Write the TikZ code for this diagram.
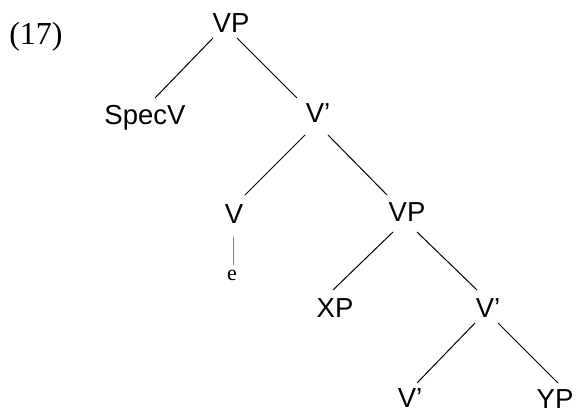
\documentclass[tikz,border=0pt]{standalone}
\usepackage{fontspec}
\setmainfont{Liberation Serif}
\setsansfont{Liberation Sans}
\begin{document}
\begin{tikzpicture}[x=1pt,y=1pt,
	cat/.style={font=\sffamily\fontsize{27.5}{30}\selectfont, inner sep=0pt, anchor=base},
	branch/.style={line width=1pt},
	trace/.style={line width=0.5pt, gray}]
	\useasboundingbox (0,0) rectangle (576,414);
	\node[anchor=base, inner sep=0pt, font=\fontsize{32}{34}\selectfont] (ex) at (36,369) {(17)};
	\node[cat] (vp) at (231,381) {VP};
	\node[cat] (spec) at (145,289) {SpecV};
	\node[cat] (vbar) at (318,291) {V’};
	\node[cat] (v) at (234,190) {V};
	\node[anchor=base, inner sep=0pt, font=\fontsize{22}{24}\selectfont] (e) at (232,133) {e};
	\node[cat] (vpb) at (407,192) {VP};
	\node[cat] (xp) at (335,96) {XP};
	\node[cat] (vbarb) at (488,96) {V’};
	\node[cat] (vbarc) at (410,6) {V’};
	\node[cat] (yp) at (555,5) {YP};
	\draw[branch] ([shift={(-18,-5)}]vp.base) -- ([shift={(10,27)}]spec.base);
	\draw[branch] ([shift={(6,-5)}]vp.base) -- ([shift={(-21,25)}]vbar.base);
	\draw[branch] ([shift={(-13,-12)}]vbar.base) -- ([shift={(11,29)}]v.base);
	\draw[branch] ([shift={(10,-12)}]vbar.base) -- ([shift={(-20,27)}]vpb.base);
	\draw[trace] ([shift={(-1,-13)}]v.base) -- ([shift={(1,16)}]e.base);
	\draw[branch] ([shift={(-14,-10)}]vpb.base) -- ([shift={(-2,28)}]xp.base);
	\draw[branch] ([shift={(10,-10)}]vpb.base) -- ([shift={(-11,28)}]vbarb.base);
	\draw[branch] ([shift={(-13,-5)}]vbarb.base) -- ([shift={(7,25)}]vbarc.base);
	\draw[branch] ([shift={(10,-5)}]vbarb.base) -- ([shift={(3,26)}]yp.base);
\end{tikzpicture}
\end{document}
